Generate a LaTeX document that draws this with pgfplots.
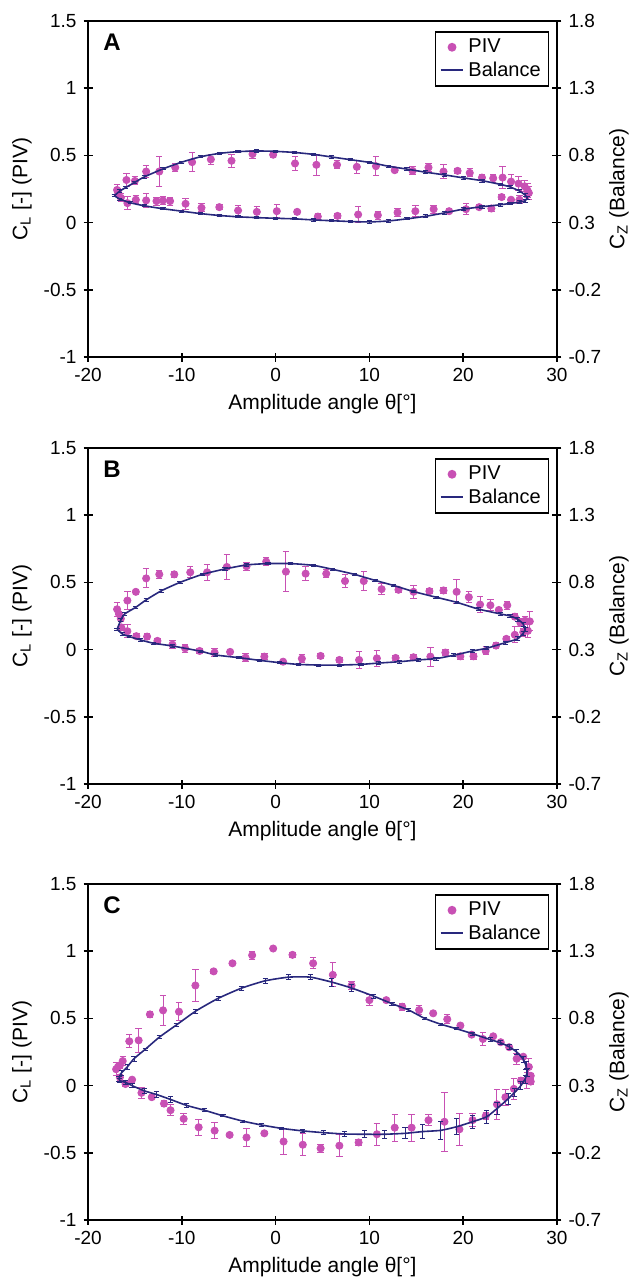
\documentclass[border=0pt]{standalone}
\usepackage{fontspec}
\setmainfont{Liberation Sans}
\usepackage{pgfplots}
\usepackage{pgfplotstable}
\pgfplotsset{compat=1.18}
\definecolor{pivc}{RGB}{200,80,180}
\definecolor{balc}{RGB}{40,40,125}

% ---------------- Panel A ----------------
\pgfplotstableread{
x y e
-16.9 0.243 0.04
-15.9 0.317 0.05
-15.0 0.31 0.03
-13.8 0.38 0.045
-12.4 0.38 0.11
-10.7 0.41 0.03
-8.9 0.45 0.07
-6.9 0.47 0.04
-4.7 0.46 0.05
-2.46 0.51 0.03
-0.26 0.505 0.02
2.07 0.44 0.05
4.35 0.43 0.08
6.55 0.43 0.03
8.66 0.415 0.05
10.7 0.42 0.07
12.7 0.39 0.02
14.6 0.385 0.03
16.3 0.41 0.03
17.9 0.38 0.05
19.4 0.385 0.02
20.7 0.37 0.03
22.0 0.335 0.02
23.2 0.33 0.03
24.2 0.335 0.08
25.1 0.305 0.05
25.9 0.29 0.05
26.55 0.27 0.04
26.85 0.24 0.05
27.0 0.22 0.05
26.0 0.17 0.03
25.1 0.17 0.02
24.1 0.19 0.02
23.0 0.105 0.02
21.7 0.115 0.02
20.3 0.10 0.04
18.5 0.085 0.02
16.85 0.10 0.03
14.9 0.085 0.04
13.0 0.075 0.03
10.9 0.055 0.03
8.8 0.06 0.06
6.6 0.05 0.02
4.5 0.045 0.02
2.3 0.08 0.02
0.13 0.085 0.05
-2.0 0.08 0.04
-4.0 0.09 0.04
-6.0 0.115 0.02
-7.9 0.11 0.03
-9.6 0.14 0.04
-11.25 0.16 0.03
-12.0 0.165 0.03
-12.7 0.16 0.03
-13.8 0.165 0.05
-14.9 0.17 0.03
-15.8 0.145 0.05
-16.5 0.185 0.03
-16.8 0.225 0.03
}\pivA

\pgfplotstableread{
x y e
-17.2 0.500 0.008
-16.6 0.535 0.008
-16.0 0.560 0.008
-15.0 0.600 0.008
-14.0 0.640 0.008
-12.0 0.700 0.008
-10.0 0.750 0.008
-8.0 0.790 0.008
-6.0 0.815 0.008
-4.0 0.828 0.008
-2.0 0.833 0.008
0.0 0.830 0.008
2.0 0.822 0.008
4.0 0.808 0.008
6.0 0.788 0.008
8.0 0.768 0.008
10.0 0.748 0.008
12.0 0.720 0.008
14.0 0.698 0.01
16.0 0.675 0.01
18.0 0.655 0.01
20.0 0.633 0.01
22.0 0.612 0.01
24.0 0.584 0.01
25.0 0.565 0.01
26.0 0.535 0.012
26.6 0.505 0.012
26.8 0.484 0.012
26.6 0.462 0.012
26.0 0.452 0.01
25.0 0.443 0.01
24.0 0.433 0.01
22.0 0.418 0.01
20.0 0.400 0.01
18.0 0.372 0.01
16.0 0.347 0.01
14.0 0.328 0.008
12.0 0.312 0.008
10.0 0.305 0.008
8.0 0.308 0.008
6.0 0.314 0.008
4.0 0.320 0.008
2.0 0.328 0.008
0.0 0.332 0.008
-2.0 0.337 0.008
-4.0 0.343 0.008
-6.0 0.353 0.008
-8.0 0.367 0.008
-10.0 0.385 0.008
-12.0 0.403 0.008
-14.0 0.425 0.008
-15.5 0.448 0.008
-16.6 0.475 0.008
-17.2 0.500 0.008
}\balA

% ---------------- Panel B ----------------
\pgfplotstableread{
x y e
-16.9 0.30 0.05
-16.7 0.265 0.02
-16.5 0.23 0.02
-15.8 0.365 0.07
-14.9 0.43 0.02
-13.8 0.53 0.07
-12.4 0.56 0.03
-10.8 0.56 0.02
-9.1 0.575 0.04
-7.3 0.575 0.06
-5.2 0.615 0.09
-3.1 0.62 0.03
-1.0 0.655 0.03
1.1 0.58 0.15
3.2 0.565 0.05
5.4 0.565 0.03
7.4 0.51 0.05
9.4 0.51 0.07
11.3 0.45 0.04
13.1 0.445 0.02
14.7 0.43 0.05
16.4 0.435 0.02
17.9 0.44 0.02
19.3 0.43 0.09
20.6 0.39 0.04
21.8 0.335 0.06
22.9 0.33 0.04
23.8 0.295 0.02
24.7 0.33 0.03
25.5 0.245 0.02
26.1 0.20 0.03
26.6 0.215 0.03
27.1 0.21 0.07
26.9 0.14 0.05
26.4 0.13 0.03
25.5 0.11 0.06
24.6 0.08 0.02
23.5 0.03 0.02
22.4 -0.01 0.03
21.1 -0.05 0.02
19.7 -0.05 0.02
18.1 -0.022 0.02
16.5 -0.052 0.07
14.7 -0.057 0.02
12.8 -0.062 0.02
10.8 -0.065 0.06
8.9 -0.077 0.06
6.8 -0.077 0.02
4.8 -0.047 0.02
2.8 -0.067 0.03
0.8 -0.09 0.02
-1.2 -0.052 0.02
-3.2 -0.06 0.03
-4.85 -0.017 0.02
-6.5 -0.022 0.03
-8.1 -0.01 0.02
-9.65 0.01 0.03
-11.0 0.037 0.03
-12.6 0.065 0.02
-13.7 0.097 0.02
-14.85 0.10 0.02
-15.8 0.137 0.05
-16.45 0.165 0.02
}\pivB

\pgfplotstableread{
x y e
-16.9 0.450 0.01
-16.5 0.520 0.01
-16.1 0.565 0.01
-14.9 0.615 0.008
-13.8 0.670 0.008
-12.2 0.737 0.008
-10.2 0.800 0.008
-7.8 0.860 0.008
-5.4 0.900 0.008
-3.1 0.930 0.008
-0.8 0.940 0.008
1.6 0.940 0.008
4.0 0.927 0.008
6.1 0.897 0.008
8.4 0.860 0.008
10.6 0.815 0.008
12.6 0.777 0.008
14.7 0.732 0.008
17.1 0.690 0.008
19.3 0.652 0.01
21.6 0.602 0.012
24.0 0.565 0.012
25.0 0.550 0.012
25.8 0.527 0.015
26.4 0.490 0.015
26.6 0.450 0.015
26.4 0.422 0.015
25.8 0.380 0.015
24.5 0.352 0.012
22.5 0.310 0.012
21.0 0.290 0.01
19.0 0.258 0.01
17.1 0.233 0.01
15.2 0.223 0.01
13.2 0.210 0.01
11.0 0.200 0.01
9.1 0.190 0.008
6.8 0.185 0.008
4.6 0.185 0.008
2.4 0.190 0.008
0.4 0.203 0.008
-1.7 0.220 0.008
-3.9 0.240 0.008
-6.4 0.260 0.008
-8.0 0.288 0.008
-11.0 0.327 0.008
-13.0 0.347 0.008
-14.4 0.372 0.008
-15.6 0.397 0.01
-16.3 0.415 0.01
-16.9 0.450 0.01
}\balB

% ---------------- Panel C ----------------
\pgfplotstableread{
x y e
-17.0 0.122 0.05
-16.8 0.14 0.03
-16.6 0.15 0.02
-16.3 0.183 0.03
-15.6 0.33 0.05
-14.6 0.337 0.09
-13.4 0.53 0.025
-12.0 0.56 0.11
-10.3 0.55 0.065
-8.55 0.745 0.12
-6.6 0.85 0.015
-4.6 0.91 0.01
-2.5 0.97 0.03
-0.26 1.02 0.01
1.8 0.973 0.02
4.0 0.91 0.04
6.1 0.824 0.09
8.1 0.745 0.03
10.0 0.636 0.04
11.8 0.636 0.01
13.5 0.587 0.025
15.3 0.562 0.035
16.8 0.538 0.01
18.3 0.494 0.035
19.7 0.447 0.01
20.9 0.379 0.01
22.1 0.347 0.045
23.2 0.367 0.01
24.0 0.323 0.01
24.9 0.286 0.01
25.7 0.20 0.04
26.4 0.215 0.02
27.0 0.139 0.06
27.2 0.073 0.02
27.2 0.03 0.02
26.8 0.037 0.06
26.15 0.037 0.02
25.4 -0.024 0.08
24.5 -0.086 0.06
23.6 -0.139 0.11
22.4 -0.227 0.025
21.0 -0.257 0.05
19.6 -0.325 0.12
18.0 -0.269 0.22
16.3 -0.257 0.04
14.5 -0.313 0.10
12.7 -0.313 0.10
10.8 -0.362 0.08
8.85 -0.423 0.02
6.8 -0.447 0.08
4.8 -0.467 0.03
2.9 -0.44 0.08
0.85 -0.416 0.10
-1.2 -0.355 0.01
-3.1 -0.386 0.07
-4.9 -0.367 0.01
-6.5 -0.335 0.06
-8.2 -0.31 0.06
-9.8 -0.247 0.04
-11.2 -0.183 0.04
-11.9 -0.134 0.025
-13.2 -0.086 0.01
-14.3 -0.054 0.04
-15.3 0.044 0.02
-16.0 0.012 0.02
-16.6 0.061 0.02
}\pivC

\pgfplotstableread{
x y e
-16.7 0.350 0.02
-16.45 0.393 0.02
-15.8 0.440 0.02
-15.1 0.500 0.02
-13.9 0.570 0.01
-12.4 0.660 0.01
-10.6 0.750 0.01
-8.5 0.855 0.015
-6.1 0.950 0.015
-3.6 1.026 0.015
-1.1 1.080 0.02
1.4 1.107 0.02
3.7 1.107 0.02
6.0 1.070 0.03
8.1 1.026 0.025
10.4 0.967 0.015
12.4 0.910 0.012
14.2 0.862 0.01
15.9 0.800 0.008
17.6 0.757 0.008
19.3 0.723 0.008
21.0 0.686 0.01
22.9 0.642 0.015
24.0 0.618 0.015
24.9 0.589 0.02
25.7 0.550 0.02
26.4 0.496 0.02
26.7 0.447 0.03
26.8 0.398 0.03
26.6 0.349 0.03
26.15 0.300 0.03
25.5 0.251 0.03
24.8 0.202 0.04
23.6 0.129 0.045
22.5 0.068 0.05
21.0 0.031 0.05
19.3 -0.006 0.06
17.6 -0.033 0.07
15.7 -0.042 0.05
13.8 -0.055 0.04
11.6 -0.062 0.03
9.5 -0.062 0.025
7.35 -0.060 0.02
5.1 -0.050 0.015
2.9 -0.037 0.012
0.6 -0.018 0.01
-1.5 0.007 0.008
-3.5 0.036 0.008
-5.6 0.075 0.008
-7.6 0.117 0.01
-9.5 0.153 0.012
-11.2 0.197 0.02
-12.7 0.234 0.02
-14.0 0.261 0.02
-15.3 0.300 0.015
-16.0 0.324 0.015
-16.6 0.337 0.015
-16.7 0.350 0.02
}\balC

\pgfplotsset{
  baseaxis/.style={
    scale only axis, width=234.5pt, height=168pt,
    xmin=-20, xmax=30,
    tick align=center, major tick length=4.5pt,
    axis line style={line width=0.9pt},
    every tick/.style={line width=0.8pt, black},
    tick label style={font=\fontsize{9.5}{11}\selectfont},
    label style={font=\fontsize{10.5}{12}\selectfont},
  },
  leftaxis/.style={
    baseaxis, ymin=-1, ymax=1.5,
    xtick={-20,-10,0,10,20,30},
    xticklabels={-20,-10,0,10,20,30},
    ytick={-1,-0.5,0,0.5,1,1.5},
    yticklabels={-1,-0.5,0,0.5,1,1.5},
    tick pos=left,
    xlabel={Amplitude angle θ[°]},
    ylabel={C\textsubscript{L} [-] (PIV)},
    xlabel style={at={(axis description cs:0.5,-0.14)}, anchor=center},
    ylabel style={at={(axis description cs:-0.141,0.5)}, anchor=center},
  },
  rightaxis/.style={
    baseaxis, ymin=-0.7, ymax=1.8,
    axis x line=none, axis y line*=right,
    ytick={-0.7,-0.2,0.3,0.8,1.3,1.8},
    yticklabels={-0.7,-0.2,0.3,0.8,1.3,1.8},
    ylabel={C\textsubscript{Z} (Balance)},
    ylabel style={at={(axis description cs:1.132,0.5)}, anchor=center},
    legend style={at={(rel axis cs:0.984,0.97)}, anchor=north east,
      draw=black, line width=0.8pt,
      font=\fontsize{10}{12}\selectfont,
      inner xsep=2pt, inner ysep=1.5pt, row sep=-1pt},
    legend cell align=left,
  },
  pivstyle/.style={
    only marks, mark=*, mark size=1.8pt, color=pivc,
    /pgfplots/error bars/y dir=both,
    /pgfplots/error bars/y explicit,
    /pgfplots/error bars/error bar style={line width=0.5pt, color=pivc},
    /pgfplots/error bars/error mark options={rotate=90, mark size=1.6pt, line width=0.5pt, color=pivc},
  },
  balstyle/.style={
    color=balc, line width=0.8pt, mark=none, smooth, tension=0.35,
    /pgfplots/error bars/y dir=both,
    /pgfplots/error bars/y explicit,
    /pgfplots/error bars/error bar style={line width=0.45pt, color=balc},
    /pgfplots/error bars/error mark options={rotate=90, mark size=1.3pt, line width=0.45pt, color=balc},
  },
  pivlegend/.style={only marks, mark=*, mark size=1.8pt, color=pivc,
    legend image code/.code={\draw[mark repeat=2,mark phase=2,##1] plot coordinates {(0cm,0cm) (0.2cm,0cm) (0.4cm,0cm)};}},
  ballegend/.style={color=balc, line width=1pt,
    legend image code/.code={\draw[##1] (0cm,0cm) -- (0.4cm,0cm);}},
}

\begin{document}
\begin{tikzpicture}
\useasboundingbox (-44pt,-462pt) rectangle (273.5pt,178.5pt);

% ===== A =====
\begin{axis}[leftaxis, at={(0,0)}, anchor=south west]
\addplot[pivstyle] table[x=x, y=y, y error=e] {\pivA};
\node[font=\bfseries\fontsize{12}{14}\selectfont] at (rel axis cs:0.051,0.936) {A};
\end{axis}
\begin{axis}[rightaxis, at={(0,0)}, anchor=south west]
\addlegendimage{pivlegend}
\addlegendentry{PIV}
\addlegendimage{ballegend}
\addlegendentry{Balance}
\addplot[forget plot, balstyle] table[x=x, y=y, y error=e] {\balA};
\end{axis}

% ===== B =====
\begin{axis}[leftaxis, at={(0,-213.5pt)}, anchor=south west]
\addplot[pivstyle] table[x=x, y=y, y error=e] {\pivB};
\node[font=\bfseries\fontsize{12}{14}\selectfont] at (rel axis cs:0.051,0.936) {B};
\end{axis}
\begin{axis}[rightaxis, at={(0,-213.5pt)}, anchor=south west]
\addlegendimage{pivlegend}
\addlegendentry{PIV}
\addlegendimage{ballegend}
\addlegendentry{Balance}
\addplot[forget plot, balstyle] table[x=x, y=y, y error=e] {\balB};
\end{axis}

% ===== C =====
\begin{axis}[leftaxis, at={(0,-431.5pt)}, anchor=south west]
\addplot[pivstyle] table[x=x, y=y, y error=e] {\pivC};
\node[font=\bfseries\fontsize{12}{14}\selectfont] at (rel axis cs:0.051,0.936) {C};
\end{axis}
\begin{axis}[rightaxis, at={(0,-431.5pt)}, anchor=south west]
\addlegendimage{pivlegend}
\addlegendentry{PIV}
\addlegendimage{ballegend}
\addlegendentry{Balance}
\addplot[forget plot, balstyle] table[x=x, y=y, y error=e] {\balC};
\end{axis}
\end{tikzpicture}
\end{document}
